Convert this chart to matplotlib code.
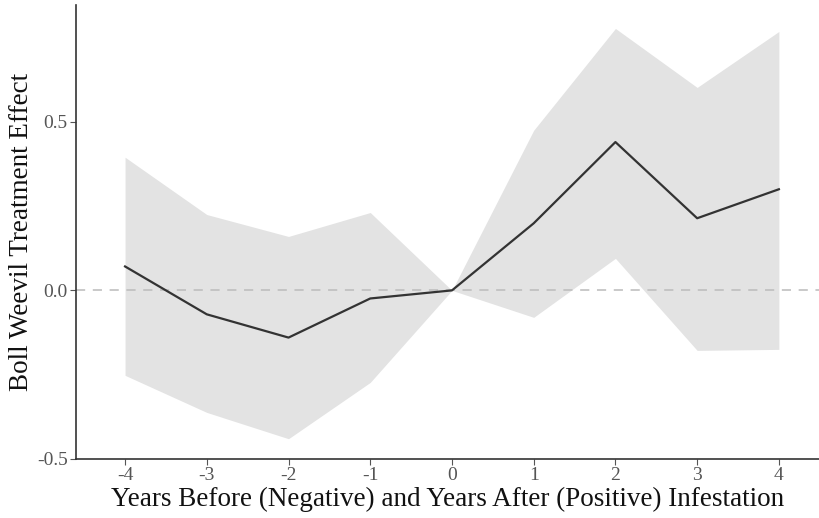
import numpy as np
import matplotlib
matplotlib.use("Agg")
import matplotlib.pyplot as plt

plt.rcParams['font.family'] = ['Liberation Serif', 'DejaVu Serif']

# event-study estimates
years = [-4, -3, -2, -1, 0, 1, 2, 3, 4]
effect = [0.071, -0.071, -0.140, -0.024, 0.0, 0.199, 0.440, 0.214, 0.300]
ci_low = [-0.252, -0.362, -0.440, -0.273, 0.0, -0.080, 0.095, -0.178, -0.175]
ci_high = [0.395, 0.225, 0.160, 0.231, 0.0, 0.475, 0.777, 0.602, 0.768]

fig = plt.figure(figsize=(8.2, 5.18), dpi=100)
ax = fig.add_axes([0.0927, 0.114, 0.907, 0.876])

ax.fill_between(years, ci_low, ci_high, color='#e3e3e3', linewidth=0)
ax.axhline(0, color='#bbbbbb', linestyle=(0, (6, 5)), linewidth=1.1)
ax.plot(years, effect, color='#333333', linewidth=1.6)

ax.set_xlim(-4.6, 4.5)
ax.set_ylim(-0.5, 0.846)
ax.set_xticks(years)
ax.set_xticklabels([str(y) for y in years])
ax.set_yticks([-0.5, 0.0, 0.5])
ax.set_yticklabels(['-0.5', '0.0', '0.5'])

for s in ['top', 'right']:
    ax.spines[s].set_visible(False)
for s in ['left', 'bottom']:
    ax.spines[s].set_color('#333333')
    ax.spines[s].set_linewidth(1.2)

ax.tick_params(colors='#555555', labelsize=14, length=4, width=0.8)
ax.tick_params(axis='x', pad=2)
ax.tick_params(axis='y', pad=2)

ax.set_xlabel('Years Before (Negative) and Years After (Positive) Infestation',
              fontsize=19.5, color='#111111', labelpad=2)
ax.set_ylabel('Boll Weevil Treatment Effect', fontsize=19.5, color='#111111', labelpad=2)

fig.savefig('out.png', dpi=100)
